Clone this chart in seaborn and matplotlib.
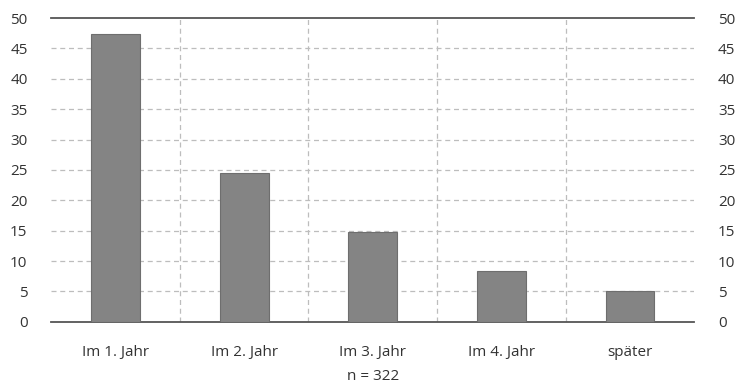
import matplotlib
matplotlib.use('Agg')
import matplotlib.pyplot as plt
import seaborn as sns
import pandas as pd

# Daten
kategorien = ['Im 1. Jahr', 'Im 2. Jahr', 'Im 3. Jahr', 'Im 4. Jahr', 'später']
anteile = [47.4, 24.5, 14.8, 8.4, 5.0]
y_ticks = [0, 5, 10, 15, 20, 25, 30, 35, 40, 45, 50]
anmerkung = 'n = 322'

df = pd.DataFrame({'Kategorie': kategorien, 'Anteil': anteile})

sns.set_style('white')
plt.rcParams['font.family'] = ['Open Sans', 'DejaVu Sans']

fig = plt.figure(figsize=(7.41, 3.85), dpi=100)
ax = fig.add_axes([0.069, 0.164, 0.868, 0.789])

sns.barplot(data=df, x='Kategorie', y='Anteil', color='#848484', width=0.38,
            edgecolor='#6e6e6e', linewidth=0.8, saturation=1, ax=ax, zorder=3)

ax.set_xlim(-0.5, len(kategorien) - 0.5)
ax.set_ylim(0, 50)
ax.set_yticks(y_ticks)
ax.set_xlabel('')
ax.set_ylabel('')

# Gitterlinien
grid_col = '#bdbdbd'
for y in y_ticks[1:-1]:
    ax.axhline(y, color=grid_col, lw=0.9, ls=(0, (4, 3)), zorder=1)
for i in range(1, len(kategorien)):
    ax.axvline(i - 0.5, color=grid_col, lw=0.9, ls=(0, (4, 3)), zorder=1)

# Achsen
for s in ['left', 'right']:
    ax.spines[s].set_visible(False)
ax.spines['top'].set_visible(True)
ax.spines['top'].set_color('#555555')
ax.spines['top'].set_linewidth(1.3)
ax.spines['bottom'].set_color('#555555')
ax.spines['bottom'].set_linewidth(1.3)

ax.set_xticks([i - 0.5 for i in range(len(kategorien) + 1)], minor=True)
ax.tick_params(axis='x', which='minor', length=14, width=1.1, color='#555555', direction='out')
ax.tick_params(axis='x', which='major', length=0, pad=17, labelsize=11, labelcolor='#333333')
ax.tick_params(axis='y', which='both', length=0, pad=17, labelsize=11, labelcolor='#333333',
               left=False, right=False, labelleft=True, labelright=True)

ax.text(2, -0.18, anmerkung, transform=ax.get_xaxis_transform(), ha='center', va='center',
        fontsize=11, color='#333333')

fig.savefig('out.png', dpi=100, facecolor='white')
